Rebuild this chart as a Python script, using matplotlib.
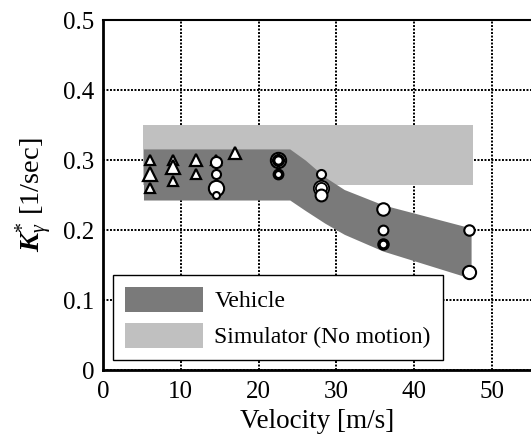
import matplotlib
matplotlib.use("Agg")
from matplotlib import pyplot as plt
from matplotlib.patches import Patch

plt.rcParams['font.family'] = 'Liberation Serif'
plt.rcParams['mathtext.fontset'] = 'custom'
plt.rcParams['mathtext.rm'] = 'Liberation Serif'
plt.rcParams['mathtext.it'] = 'Liberation Serif:italic'
plt.rcParams['mathtext.bf'] = 'Liberation Serif:bold:italic'

# band outlines (velocity m/s, gain 1/sec)
sim_v = [5.2, 47.5]
sim_lo = [0.265, 0.265]
sim_hi = [0.35, 0.35]

veh_v = [5.2, 24.0, 26.0, 28.5, 31.0, 36.0, 47.3]
veh_hi = [0.316, 0.316, 0.300, 0.276, 0.258, 0.236, 0.203]
veh_lo = [0.243, 0.243, 0.228, 0.210, 0.194, 0.170, 0.131]

# measured points: triangles and circles
tri_v = [6.0, 6.0, 6.0, 9.0, 9.0, 9.0, 12.0, 12.0, 14.5, 17.0]
tri_k = [0.30, 0.28, 0.26, 0.30, 0.29, 0.27, 0.30, 0.28, 0.30, 0.31]
tri_ms = [7, 9.5, 7, 7, 9.5, 7, 9, 7, 7.5, 9]

cir_v = [14.5, 14.5, 14.5, 14.5, 22.5, 22.5, 22.5, 28.0, 28.0, 28.0, 28.0,
         36.0, 36.0, 36.0, 47.0, 47.0]
cir_k = [0.297, 0.28, 0.26, 0.25, 0.30, 0.30, 0.28, 0.28, 0.26, 0.26, 0.25,
         0.23, 0.20, 0.18, 0.20, 0.14]
cir_ms = [8, 6.5, 11, 5, 11, 7, 6, 6.5, 11, 8, 8.5, 9, 7, 6.5, 7.5, 9.5]
cir_ew = [1.5, 1.5, 1.5, 1.5, 1.5, 2.5, 2.5, 1.5, 1.3, 1.3, 1.5,
          1.5, 1.5, 2.5, 1.5, 1.5]

dark = '#7a7a7a'
light = '#c0c0c0'

fig = plt.figure(figsize=(5.31, 4.37), dpi=100)
ax = fig.add_axes([0.194, 0.153, 0.806, 0.801])

ax.fill_between(sim_v, sim_lo, sim_hi, color=light, lw=0, zorder=1)
ax.fill_between(veh_v, veh_lo, veh_hi, color=dark, lw=0, zorder=2)

for v, k, ms in zip(tri_v, tri_k, tri_ms):
    ax.plot(v, k, '^', ms=ms, mfc='white', mec='black', mew=1.6, zorder=4)
for v, k, ms, ew in zip(cir_v, cir_k, cir_ms, cir_ew):
    ax.plot(v, k, 'o', ms=ms, mfc='white', mec='black', mew=ew, zorder=4)

ax.set_xlim(0.5, 55.0)
ax.set_ylim(0, 0.5)
ax.set_xticks([0, 10, 20, 30, 40, 50])
ax.set_xticklabels(['0', '10', '20', '30', '40', '50'])
ax.set_yticks([0, 0.1, 0.2, 0.3, 0.4, 0.5])
ax.set_yticklabels(['0', '0.1', '0.2', '0.3', '0.4', '0.5'])
ax.tick_params(length=0, labelsize=18)
ax.tick_params(axis='x', pad=8)
ax.tick_params(axis='y', pad=6)
ax.grid(True, color='black', linestyle=(0, (1, 0.8)), linewidth=1.4, zorder=0)
ax.set_axisbelow(True)

ax.spines['right'].set_visible(False)
ax.spines['left'].set_linewidth(2)
ax.spines['bottom'].set_linewidth(2)
ax.spines['top'].set_linewidth(1.5)

ax.set_xlabel('Velocity [m/s]', fontsize=19.5, labelpad=4)
ax.set_ylabel(r'$\mathbf{K}^{*}_{\gamma}$ [1/sec]', fontsize=20.5, labelpad=6)

handles = [Patch(facecolor=dark, edgecolor='none', label='Vehicle'),
           Patch(facecolor=light, edgecolor='none', label='Simulator (No motion)')]
leg = ax.legend(handles=handles, loc='lower left', bbox_to_anchor=(0.023, 0.029),
                borderaxespad=0, fontsize=17, handlelength=3.3, handleheight=1.25,
                fancybox=False, framealpha=1, edgecolor='black',
                borderpad=0.5, labelspacing=0.45, handletextpad=0.5)
leg.get_frame().set_linewidth(1.0)
leg.set_zorder(5)

fig.savefig('out.png', dpi=100)
